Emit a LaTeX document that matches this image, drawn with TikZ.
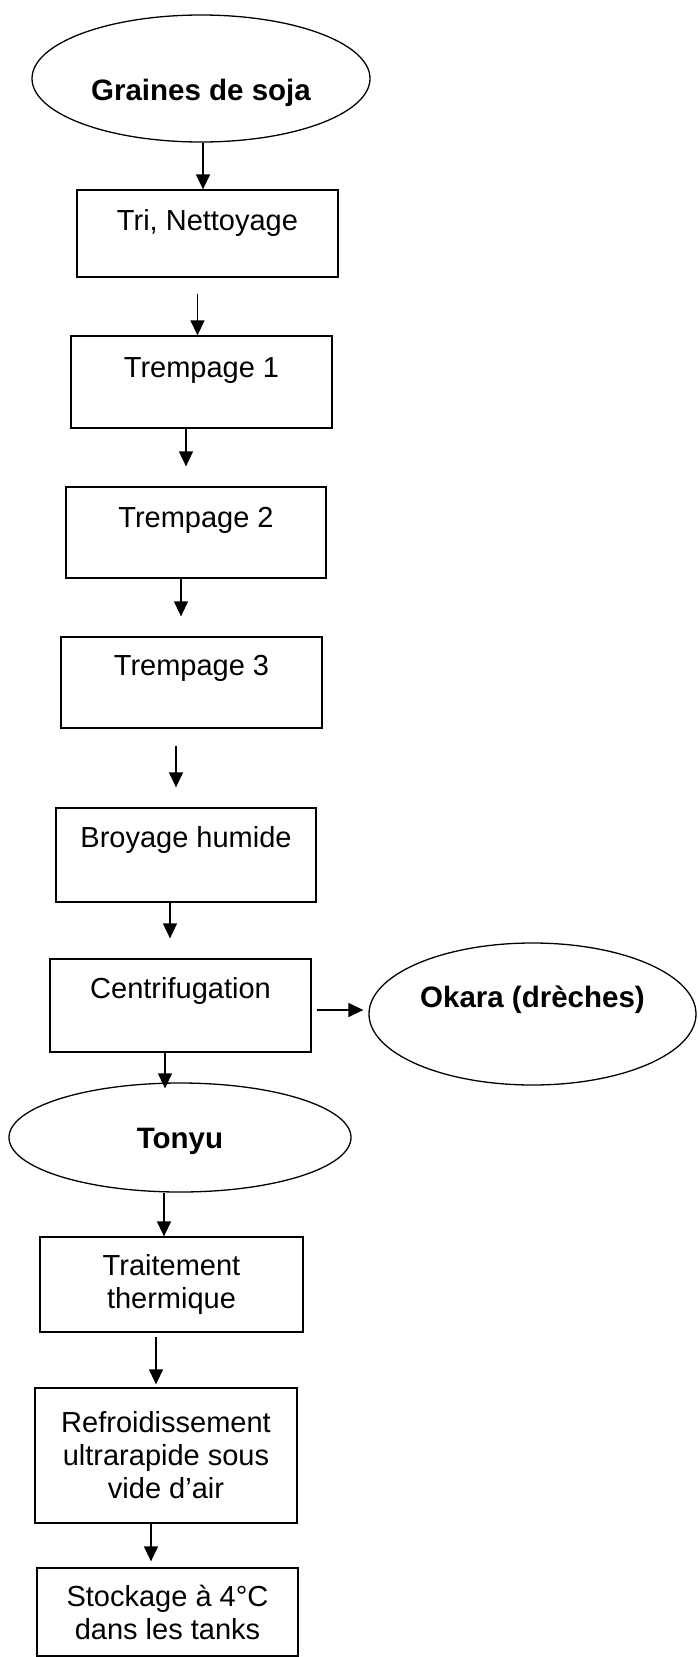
\documentclass[tikz,border=0pt]{standalone}
\usepackage{fontspec}
\setmainfont{Liberation Sans}
\usetikzlibrary{shapes.geometric,arrows.meta}
\tikzset{
  stepbox/.style={draw, line width=1.3pt, rectangle, inner sep=0pt, align=center,
    font=\fontsize{29}{33}\selectfont},
  oval/.style={draw, line width=1.3pt, ellipse, inner sep=0pt,
    font=\fontsize{29.5}{33}\selectfont\bfseries},
  arr/.style={line width=1.3pt, -{Triangle[length=15pt,width=14pt]}}
}
\begin{document}
\begin{tikzpicture}[x=1pt,y=-1pt]
\useasboundingbox[fill=white] (0,0) rectangle (697,1657);

\node[oval, minimum width=338pt, minimum height=127pt, text height=43pt, text depth=0pt] (graines) at (201,78.5) {Graines de soja};
\node[stepbox, minimum width=261pt, minimum height=87pt, text height=20pt, text depth=27pt] (tri) at (207.5,233.5) {Tri, Nettoyage};
\node[stepbox, minimum width=261pt, minimum height=92pt, text height=20pt, text depth=30pt] (t1) at (201.5,382) {Trempage 1};
\node[stepbox, minimum width=260pt, minimum height=91pt, text height=20pt, text depth=31pt] (t2) at (196,532.5) {Trempage 2};
\node[stepbox, minimum width=261pt, minimum height=91pt, text height=20pt, text depth=35pt] (t3) at (191.5,682.5) {Trempage 3};
\node[stepbox, minimum width=260pt, minimum height=94pt, text height=20pt, text depth=36pt] (broy) at (186,855) {Broyage humide};
\node[stepbox, minimum width=261pt, minimum height=93pt, text height=20pt, text depth=35pt] (centri) at (180.5,1005.5) {Centrifugation};
\node[oval, minimum width=327pt, minimum height=142pt, text height=20pt, text depth=34pt] (okara) at (532.5,1014) {Okara (drèches)};
\node[oval, minimum width=342pt, minimum height=109pt, text height=21pt, text depth=0pt] (tonyu) at (180,1137.5) {Tonyu};
\node[stepbox, minimum width=263pt, minimum height=95pt] (trait) at (171.5,1284.5) {Traitement\\thermique};
\node[stepbox, minimum width=262pt, minimum height=135pt] (refr) at (166,1455.5) {Refroidissement\\ultrarapide sous\\vide d’air};
\node[stepbox, minimum width=261pt, minimum height=88pt] (stock) at (167.5,1612) {Stockage à 4°C\\dans les tanks};

\draw[arr] ([xshift=2pt]graines.south) -- ([xshift=-4.5pt]tri.north);
\draw[arr] ([xshift=-10pt,yshift=-16pt]tri.south) -- ([xshift=-4pt]t1.north);
\draw[arr] ([xshift=-15.5pt]t1.south) -- ([xshift=-10pt,yshift=20pt]t2.north);
\draw[arr] ([xshift=-15pt]t2.south) -- ([xshift=-10.5pt,yshift=20pt]t3.north);
\draw[arr] ([xshift=-15.5pt,yshift=-17pt]t3.south) -- ([xshift=-10pt,yshift=20pt]broy.north);
\draw[arr] ([xshift=-16pt]broy.south) -- ([xshift=-10.5pt,yshift=20pt]centri.north);
\draw[arr] ([xshift=5pt,yshift=-4.5pt]centri.east) -- ([xshift=-5pt,yshift=4pt]okara.west);
\draw[arr] ([xshift=-15.5pt]centri.south) -- ([xshift=-15pt,yshift=-6pt]tonyu.north);
\draw[arr] ([xshift=-16pt]tonyu.south) -- ([xshift=-7.5pt]trait.north);
\draw[arr] ([xshift=-15.5pt,yshift=-4pt]trait.south) -- ([xshift=-10pt,yshift=3pt]refr.north);
\draw[arr] ([xshift=-15pt]refr.south) -- ([xshift=-16.5pt,yshift=6pt]stock.north);
\end{tikzpicture}
\end{document}
